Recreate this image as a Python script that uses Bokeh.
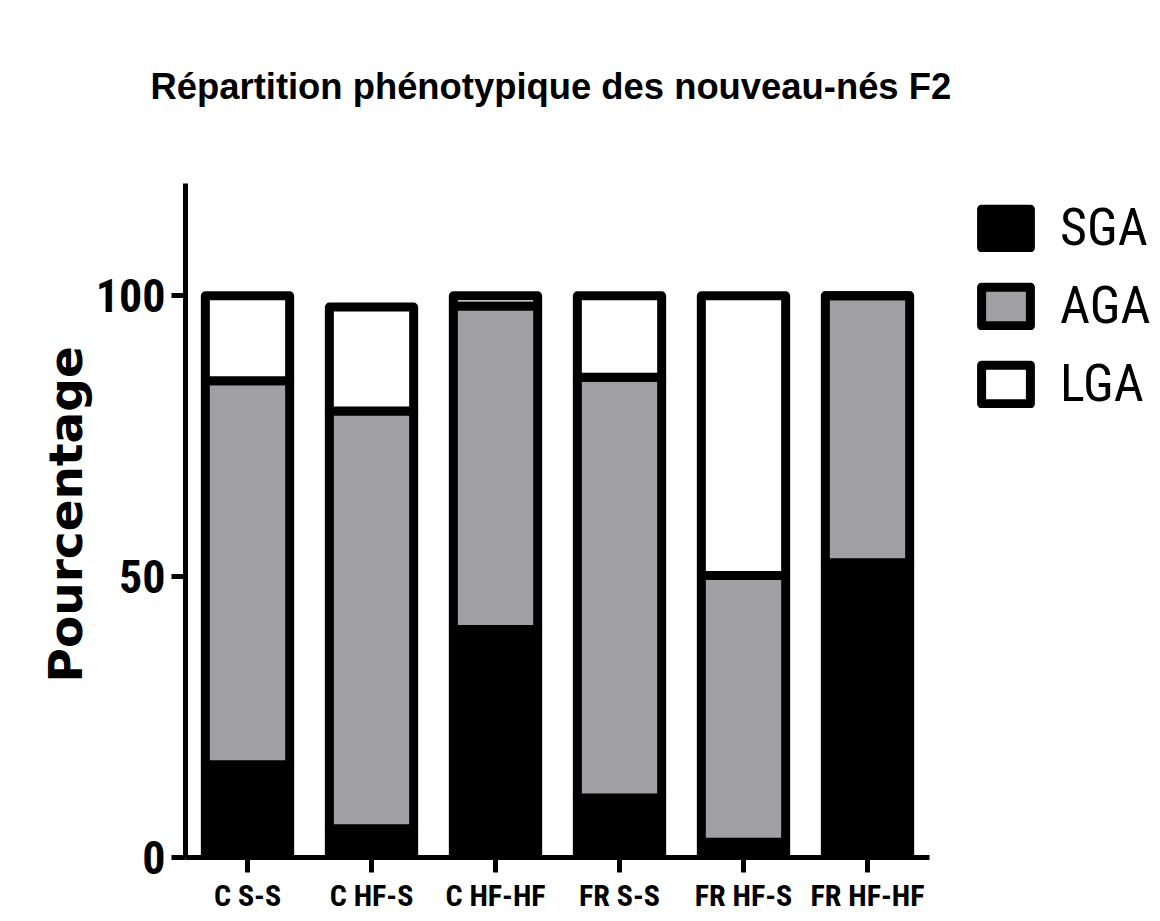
from bokeh.plotting import figure
from bokeh.models import Range1d, FixedTicker, Legend, LegendItem, ColumnDataSource, Title
from bokeh.embed import file_html
from bokeh.resources import INLINE

# ---- data ----
groups = ["C S-S", "C HF-S", "C HF-HF", "FR S-S", "FR HF-S", "FR HF-HF"]
sga = [16.5, 5.1, 40.6, 10.6, 2.7, 52.5]
aga = [68.4, 74.4, 57.6, 74.9, 47.5, 47.5]
lga = [15.1, 18.5, 1.8, 14.5, 49.8, 0.0]
categories = ["SGA", "AGA", "LGA"]
colors = ["#000000", "#a0a0a4", "#ffffff"]
y_ticks = [0, 50, 100]
y_max = 120
title_text = "Répartition phénotypique des nouveau-nés F2"
y_label = "Pourcentage"

# bar centres: one slot per group
xpos = [i + 0.5 for i in range(len(groups))]
source = ColumnDataSource(dict(x=xpos, SGA=sga, AGA=aga, LGA=lga))

# ---- layout (pixels) ----
W, H = 1160, 917
left, axis_right, frame_right = 185, 929, 1155
top_120, bottom = 183, 857
frame_top = 111
px_per_slot = (axis_right - left) / len(groups)
px_per_unit = (bottom - top_120) / y_max
x_end = (frame_right - left) / px_per_slot
y_end = (bottom - frame_top) / px_per_unit

p = figure(width=W, height=H, output_backend="svg", toolbar_location=None,
           x_range=Range1d(0, x_end), y_range=Range1d(0, y_end),
           min_border_left=left, min_border_right=W - frame_right,
           min_border_top=frame_top, min_border_bottom=H - bottom)
p.background_fill_color = "white"
p.border_fill_color = "white"
p.outline_line_color = None
p.xgrid.visible = False
p.ygrid.visible = False

renderers = p.vbar_stack(categories, x="x", width=0.68, source=source,
                         fill_color=colors, line_color="black", line_width=9,
                         line_join="round")

p.title.text = title_text
p.title.align = "left"
p.title.offset = -35
p.title.text_font = "Liberation Sans"
p.title.text_font_size = "36.4px"
p.title.text_font_style = "bold"
p.title.text_color = "black"

for ax in (p.xaxis[0], p.yaxis[0]):
    ax.axis_line_width = 5
    ax.axis_line_color = "black"
    ax.major_tick_line_width = 5
    ax.major_tick_line_color = "black"
    ax.major_tick_in = 0
    ax.minor_tick_line_color = None
    ax.major_label_text_font = "Roboto Condensed"
    ax.major_label_text_font_style = "bold"
    ax.major_label_text_color = "black"

p.xaxis.bounds = (0, len(groups))
p.xaxis.ticker = FixedTicker(ticks=xpos)
p.xaxis.major_label_overrides = {x: g for x, g in zip(xpos, groups)}
p.xaxis.major_tick_out = 15
p.xaxis.major_label_text_font_size = "30px"
p.xaxis.major_label_standoff = 5

p.yaxis.bounds = (0, y_max)
p.yaxis.ticker = FixedTicker(ticks=y_ticks)
p.yaxis.major_tick_out = 14
p.yaxis.major_label_text_font_size = "46px"
p.yaxis.major_label_standoff = 6

# y-axis title, centred on the 0-120 axis rather than on the taller frame
ylab = Title(text=y_label, align="left", offset=175, standoff=0, vertical_align="bottom",
             text_font="DejaVu Sans", text_font_style="bold", text_font_size="47px",
             text_color="black")
p.add_layout(ylab, "left")

legend = Legend(items=[LegendItem(label=c, renderers=[r]) for c, r in zip(categories, renderers)],
                location=(790, 443), orientation="vertical",
                glyph_width=61, glyph_height=48, label_height=48, spacing=17, label_standoff=24,
                label_text_font="Roboto Condensed", label_text_font_size="52px", label_text_color="black",
                border_line_color=None, background_fill_alpha=0, margin=0, padding=0)
p.add_layout(legend, "center")

open("out.html", "w").write(file_html(p, INLINE))
